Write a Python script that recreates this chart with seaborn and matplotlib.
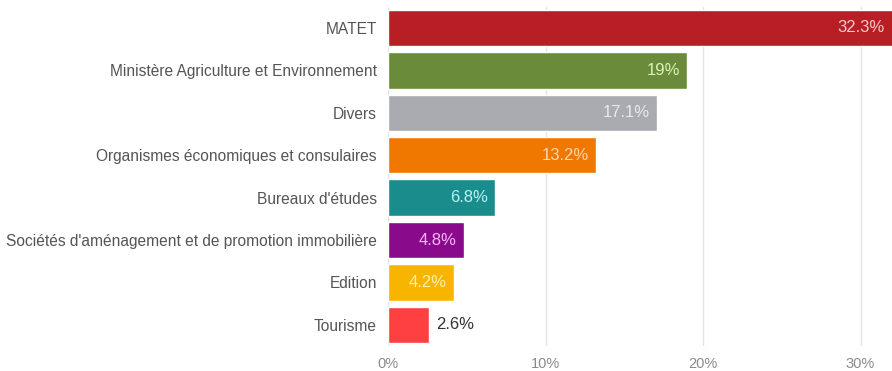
import matplotlib
matplotlib.use("Agg")
import matplotlib.pyplot as plt
import seaborn as sns
import pandas as pd

categories = [
    "MATET",
    "Ministère Agriculture et Environnement",
    "Divers",
    "Organismes économiques et consulaires",
    "Bureaux d'études",
    "Sociétés d'aménagement et de promotion immobilière",
    "Edition",
    "Tourisme",
]
shares = [32.3, 19, 17.1, 13.2, 6.8, 4.8, 4.2, 2.6]
value_labels = ["32.3%", "19%", "17.1%", "13.2%", "6.8%", "4.8%", "4.2%", "2.6%"]
bar_colors = ["#b81f25", "#6a8b3a", "#a9abb0", "#f07800", "#1a8c8c",
              "#8a0a8c", "#f8b500", "#fe4040"]
label_colors = ["#f6c9c9", "#d9f2b8", "#e8e8ee", "#ffd8b0", "#b8f4f4",
                "#f7b6f7", "#fff0a8", "#333333"]
x_ticks = [0, 10, 20, 30]
x_tick_labels = ["0%", "10%", "20%", "30%"]

df = pd.DataFrame({"categorie": categories, "part": shares})

sns.set_theme(style="white")
plt.rcParams["font.family"] = ["Liberation Sans", "DejaVu Sans"]

fig = plt.figure(figsize=(8.92, 3.71), dpi=100)
ax = fig.add_axes([0.435, 0.067, 0.565, 0.915])

sns.barplot(data=df, x="part", y="categorie", hue="categorie",
            palette=bar_colors, order=categories, hue_order=categories,
            width=0.86, legend=False, ax=ax, saturation=1)

ax.set_xlim(0, 32)
ax.set_ylim(len(categories) - 0.5, -0.5)
ax.set_xticks(x_ticks)
ax.set_xticklabels(x_tick_labels, fontsize=10.5, color="#8a8a8a")
ax.tick_params(axis="y", length=0, pad=8, labelsize=11.2, labelcolor="#555555")
ax.tick_params(axis="x", length=0, pad=8)
ax.set_xlabel("")
ax.set_ylabel("")
ax.xaxis.grid(True, color="#e4e4e4", linewidth=1)
ax.set_axisbelow(True)
for s in ax.spines.values():
    s.set_visible(False)

for i, (v, txt, c) in enumerate(zip(shares, value_labels, label_colors)):
    if v < 3:
        ax.text(v + 0.45, i, txt, ha="left", va="center",
                fontsize=12, color=c)
    else:
        x = min(v, 32) - 0.45
        ax.text(x, i, txt, ha="right", va="center",
                fontsize=12, color=c)

fig.savefig("out.png", dpi=100)
